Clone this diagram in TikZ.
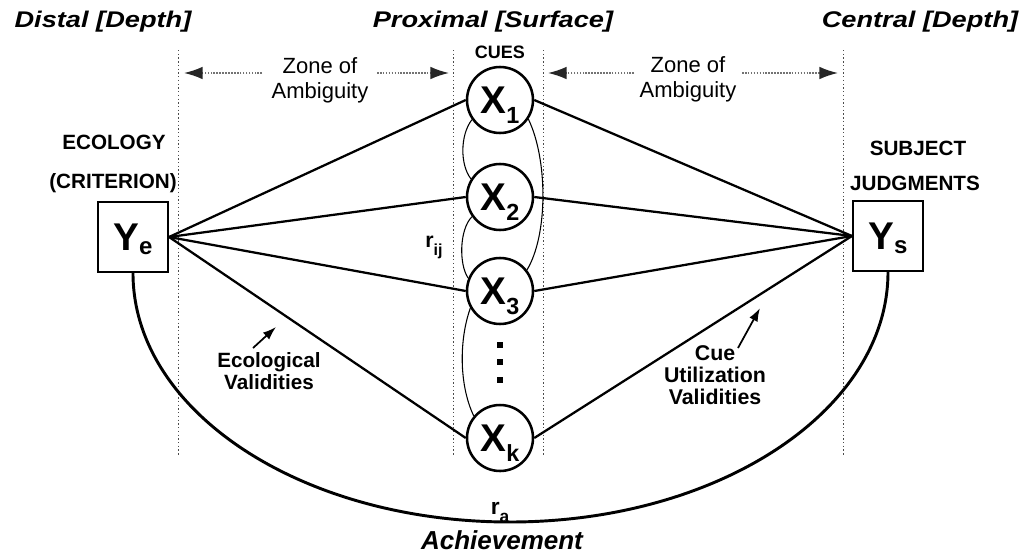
\documentclass[tikz,border=0pt]{standalone}
\usepackage{fontspec}
\setmainfont{Liberation Sans}
\newfontfamily\widefont{Liberation Sans}[FakeStretch=1.2]
\usetikzlibrary{arrows.meta}

% cue and criterion symbols with lowered subscripts
\newcommand{\cuesym}[1]{{\fontsize{29}{29}\selectfont X}\smash{\raisebox{-8pt}{\fontsize{17.5}{17.5}\selectfont #1}}}
\newcommand{\ysym}[1]{{\fontsize{29}{29}\selectfont Y}\smash{\raisebox{-3.5pt}{\fontsize{18}{18}\selectfont #1}}}

\begin{document}
\begin{tikzpicture}[x=0.75pt,y=-0.75pt,
  guide/.style={draw=black!70, line width=0.6pt, dash pattern=on 1pt off 1.8pt},
  zone/.style={draw=black!55, line width=1.2pt, densely dotted,
    -{Latex[length=14pt,width=9.5pt,color=black!85]}},
  cuenode/.style={circle, draw, line width=1.9pt, minimum size=49.5pt,
    inner sep=0pt, text depth=0pt, font=\bfseries},
  varnode/.style={rectangle, draw, line width=1.6pt, minimum size=52.5pt,
    inner sep=0pt, text depth=0pt, font=\bfseries},
  dotnode/.style={rectangle, fill, minimum size=5pt, inner sep=0pt},
  edge/.style={line width=1.7pt},
  corr/.style={line width=0.8pt},
  pointer/.style={line width=1.3pt, -{Latex[length=10pt,width=7pt]}},
  head/.style={font=\widefont\bfseries\itshape\fontsize{17}{20}\selectfont},
  caps/.style={font=\bfseries\fontsize{15.5}{18}\selectfont},
  zonetext/.style={align=center, font=\fontsize{16.5}{19}\selectfont},
  boldtext/.style={align=center, font=\bfseries\fontsize{15.5}{17}\selectfont},
]
\useasboundingbox (0,0) rectangle (1029,554);
\fill[white] (0,0) rectangle (1029,554);

% headers
\node[head] (hdist) at (103,22) {Distal [Depth]};
\node[head] (hprox) at (493,22) {Proximal [Surface]};
\node[head] (hcent) at (920,22) {Central [Depth]};

% dotted zone boundaries
\foreach \gx/\nm in {178/ga,453/gb,543/gc,843/gd}{
  \coordinate (\nm top) at (\gx,50);
  \coordinate (\nm bot) at (\gx,455);
  \draw[guide] (\nm top) -- (\nm bot);
}

% zones of ambiguity
\node[zonetext] (zl) at (320,80) {Zone of\\Ambiguity};
\node[zonetext] (zr) at (688,79) {Zone of\\Ambiguity};
\coordinate (zl1) at (262,73); \coordinate (zl0) at (184,73);
\coordinate (zl2) at (377,73); \coordinate (zl3) at (449,73);
\coordinate (zr1) at (634,73); \coordinate (zr0) at (548,73);
\coordinate (zr2) at (742,73); \coordinate (zr3) at (838,73);
\draw[zone] (zl1) -- (zl0);
\draw[zone] (zl2) -- (zl3);
\draw[zone] (zr1) -- (zr0);
\draw[zone] (zr2) -- (zr3);

% cues
\node[font=\bfseries\fontsize{13.5}{15}\selectfont] (cues) at (500,52) {CUES};
\node[cuenode] (x1) at (500,100) {\cuesym{1}};
\node[cuenode] (x2) at (500,197) {\cuesym{2}};
\node[cuenode] (x3) at (500,291) {\cuesym{3}};
\node[cuenode] (xk) at (500,438) {\cuesym{k}};
\node[dotnode] (d1) at (500,345) {};
\node[dotnode] (d2) at (500,362) {};
\node[dotnode] (d3) at (500,380) {};

% criterion and judgment
\node[caps] (eco) at (114,142) {ECOLOGY};
\node[caps] (crit) at (113,183) {(CRITERION)};
\node[caps] (subj) at (918,148) {SUBJECT};
\node[caps] (judg) at (915,183) {JUDGMENTS};
\node[varnode] (ye) at (133,237) {\ysym{e}};
\node[varnode] (ys) at (888,236) {\ysym{s}};

% lens lines
\foreach \c in {x1,x2,x3,xk}{
  \draw[edge] (ye.east) -- (\c.west);
  \draw[edge] (\c.east) -- (ys.west);
}

% cue intercorrelations
\draw[corr] (x1.215) .. controls (460,135) and (460,165) .. (x2.148);
\draw[corr] (x2.215) .. controls (459,230) and (459,265) .. (x3.158);
\draw[corr] (x3.210) .. controls (459,340) and (459,385) .. (xk.140);
\draw[corr] (x1.326) .. controls (548,160) and (548,235) .. (x3.38);
\node[font=\bfseries\fontsize{16}{16}\selectfont] (rij) at (434,242)
  {r\smash{\raisebox{-6pt}{\fontsize{12}{12}\selectfont ij}}};

% validities
\node[boldtext] (ecv) at (269,371) {Ecological\\Validities};
\coordinate (ecv0) at (253,348); \coordinate (ecv1) at (276,327);
\draw[pointer] (ecv0) -- (ecv1);
\node[boldtext, font=\bfseries\fontsize{16}{16.5}\selectfont] (cuv) at (715,375) {Cue\\Utilization\\Validities};
\coordinate (cuv0) at (738,348); \coordinate (cuv1) at (760,308);
\draw[pointer] (cuv0) -- (cuv1);

% achievement
\coordinate (bot) at (510,522);
\draw[line width=2.2pt] (ye.south) .. controls +(0,138) and +(-209,0) .. (bot)
  .. controls +(209,0) and +(0,138) .. (ys.south);
\node[font=\bfseries\fontsize{17}{17}\selectfont] (ra) at (500,508)
  {r\smash{\raisebox{-6pt}{\fontsize{13}{13}\selectfont a}}};
\node[font=\bfseries\itshape\fontsize{19.5}{21}\selectfont] (ach) at (502,540) {Achievement};
\end{tikzpicture}
\end{document}
